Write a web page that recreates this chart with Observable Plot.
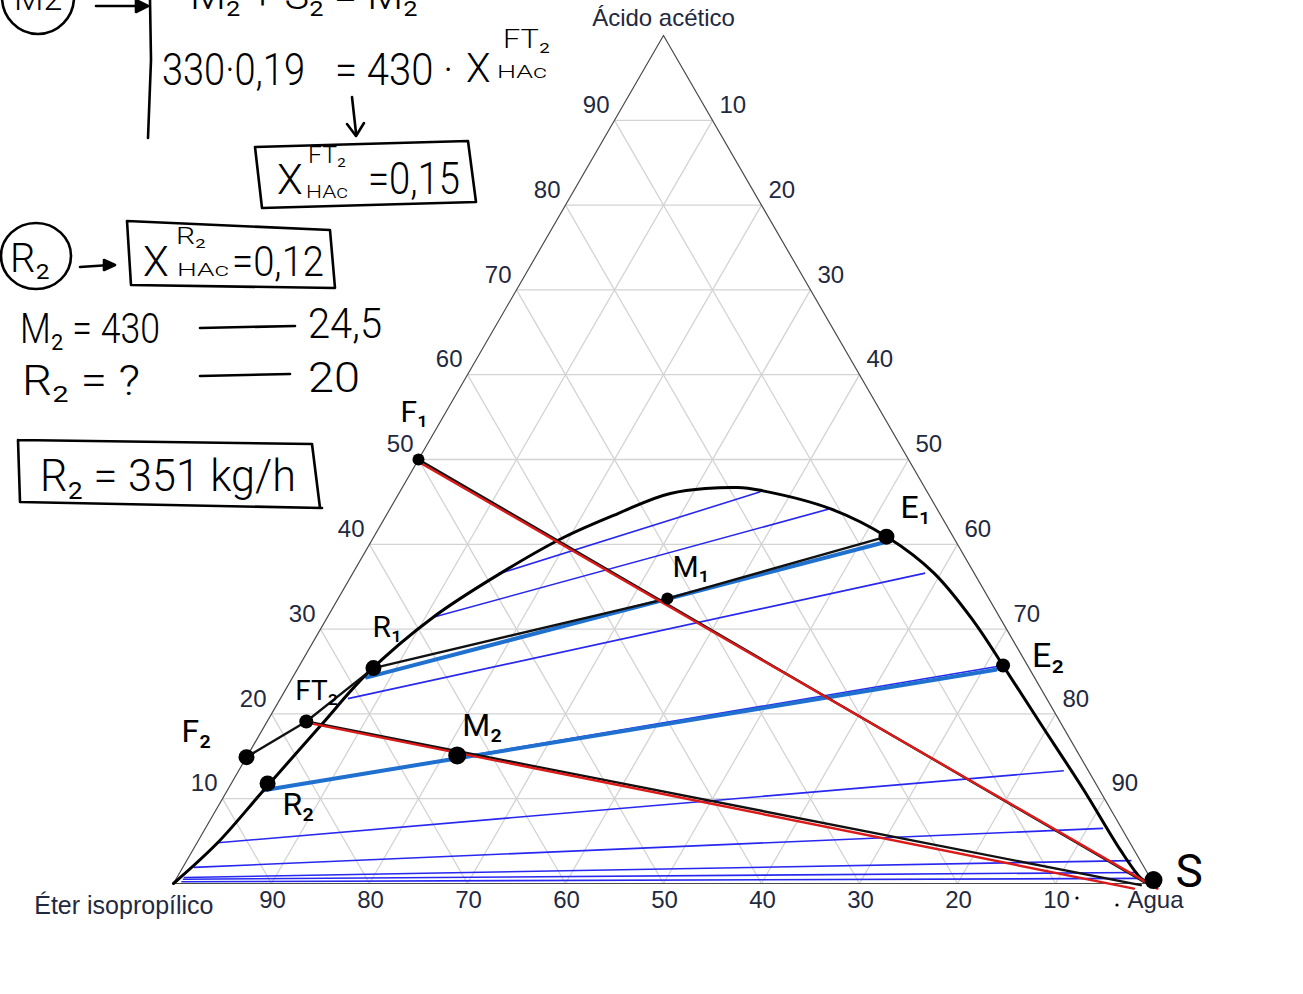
<!DOCTYPE html>
<html><head><meta charset="utf-8">
<script src="https://cdn.jsdelivr.net/npm/d3@7"></script>
<script src="https://cdn.jsdelivr.net/npm/@observablehq/plot@0.6"></script>
<style>
html,body{margin:0;padding:0;background:#fff;}
#chart{position:relative;width:1303px;height:994px;overflow:hidden;}
#chart svg{display:block;}
</style></head><body><div id="chart"></div>
<script>
// ---------- data (percent compositions: acid = Ácido acético, water = Agua) ----------
const ticks = [10,20,30,40,50,60,70,80,90];
const cornerNames = ["Ácido acético","Éter isopropílico","Agua"];
const cornerAcid = [100, 0, 0];
const cornerWater = [0, 0, 100];

const binodalAcid  = [0, 4.8, 11.0, 18.6, 24.8, 31.4, 36.6, 40.8, 43.6, 46.0, 46.7, 46.3, 44.2, 40.8, 36.6, 31.0, 25.7, 18.9, 11.0, 3.9, 0.7, 0];
const binodalWater = [0, 2.1, 3.7, 5.7, 7.4, 10.8, 15.1, 19.4, 23.5, 27.7, 34.2, 37.0, 44.9, 52.5, 59.3, 66.1, 71.8, 79.0, 87.4, 94.7, 98.3, 99.5];

const tieRaffAcid  = [36.6, 31.4, 21.8, 11.0, 4.8, 1.9, 0.7, 0.5, 0.2];
const tieRaffWater = [15.1, 10.8, 6.9, 3.7, 2.1, 1.1, 0.7, 0.7, 0.7];
const tieExtAcid   = [46.2, 44.2, 36.6, 25.7, 13.3, 6.5, 2.7, 1.3, 0.6];
const tieExtWater  = [36.8, 44.9, 58.4, 71.8, 84.2, 91.6, 96.4, 97.7, 98.4];

const pointNames = ["F1","M1","R1","E1","FT2","F2","R2","M2","E2","S"];
const pointAcid  = [50.0, 33.6, 25.4, 40.9, 19.1, 14.9, 11.8, 15.1, 25.7, 0.4];
const pointWater = [0.0, 33.6, 7.7, 52.3, 4.0, 0.0, 3.7, 21.4, 71.8, 99.8];
const pointText  = ["F₁","M₁","R₁","E₁","FT₂","F₂","R₂","M₂","E₂","S"];

// hand-drawn construction lines
const blackChainAcid  = [14.9, 19.1, 25.4, 33.6, 40.9];
const blackChainWater = [0.0, 4.0, 7.7, 33.6, 52.3];
const blackF1SAcid = [50.0, 0.2],  blackF1SWater = [0.0, 98.9];
const blackFT2SAcid = [19.1, -0.2], blackFT2SWater = [4.0, 98.8];
const redF1SAcid = [49.8, -0.6],   redF1SWater = [0.0, 100.7];
const redFT2SAcid = [19.0, -0.6],  redFT2SWater = [4.0, 98.3];
const blueR1E1Acid = [24.3, 40.3], blueR1E1Water = [7.6, 52.6];
const blueR2E2Acid = [11.0, 25.2], blueR2E2Water = [3.7, 71.3];

// ---------- styles / layout ----------
const dotR = {F1:6, M1:6, R1:8, E1:8, FT2:7, F2:8, R2:8, M2:9, E2:7, S:9};
const labelOff = {F1:[-18,-47], M1:[5,-31], E1:[14,-29], R1:[-1,-41], FT2:[-11,-31], F2:[-65,-25], R2:[15,21], M2:[5,-30], E2:[29,-9], S:[22,-8]};
const labelSize = {F1:30, M1:30, E1:32, R1:30, FT2:28, F2:32, R2:32, M2:32, E2:34, S:46};
const HW = "Roboto,'Liberation Sans',sans-serif";
const HWW = 300;
const LAB = "#1f2940";

// ternary -> cartesian (x in %, y = acid %)
const tx = (a, w) => w + a / 2;
const pts = (A, Wt) => A.map((a, i) => [a, Wt[i]]);
const lineOf = (A, Wt, opts) => Plot.line(pts(A, Wt), {x: d => tx(d[0], d[1]), y: d => d[0], ...opts});

const gridRows = [];
for (const k of ticks) {
  gridRows.push([k, 0, k, 100 - k]);        // constant acid
  gridRows.push([0, k, 100 - k, k]);        // constant water
  gridRows.push([0, 100 - k, 100 - k, 0]);  // constant ether
}
const ties = tieRaffAcid.map((a, i) => [a, tieRaffWater[i], tieExtAcid[i], tieExtWater[i]]);
const tri = [0, 1, 2, 0].map(i => [cornerAcid[i], cornerWater[i]]);
const points = pointNames.map((n, i) => ({n, a: pointAcid[i], w: pointWater[i], t: pointText[i]}));

const svg = Plot.plot({
  width: 1303, height: 994, margin: 0,
  x: {domain: [0, 100], range: [173, 1153], axis: null},
  y: {domain: [0, 100], range: [883, 35], axis: null},
  style: {background: "#fff", fontFamily: "'Liberation Sans', Arial, sans-serif"},
  marks: [
    Plot.link(gridRows, {x1: d => tx(d[0], d[1]), y1: d => d[0], x2: d => tx(d[2], d[3]), y2: d => d[2], stroke: "#d3d3d3", strokeWidth: 1.3}),
    Plot.line(tri, {x: d => tx(d[0], d[1]), y: d => d[0], stroke: "#4a4a4a", strokeWidth: 1.2}),
    Plot.link(ties, {x1: d => tx(d[0], d[1]), y1: d => d[0], x2: d => tx(d[2], d[3]), y2: d => d[2], stroke: "#2727f0", strokeWidth: 1.6}),
    lineOf(blueR1E1Acid, blueR1E1Water, {stroke: "#1f70cf", strokeWidth: 4}),
    lineOf(blueR2E2Acid, blueR2E2Water, {stroke: "#1f70cf", strokeWidth: 4}),
    lineOf(binodalAcid, binodalWater, {curve: "catmull-rom", stroke: "#000", strokeWidth: 3}),
    lineOf(blackChainAcid, blackChainWater, {stroke: "#111", strokeWidth: 2.4}),
    lineOf(blackF1SAcid, blackF1SWater, {stroke: "#111", strokeWidth: 2.4}),
    lineOf(blackFT2SAcid, blackFT2SWater, {stroke: "#111", strokeWidth: 2.4}),
    lineOf(redF1SAcid, redF1SWater, {stroke: "#dc1a1a", strokeWidth: 2.4}),
    lineOf(redFT2SAcid, redFT2SWater, {stroke: "#dc1a1a", strokeWidth: 2.4}),
    ...points.map(p => Plot.dot([p], {x: d => tx(d.a, d.w), y: d => d.a, r: dotR[p.n], fill: "#000"})),
    // tick labels
    Plot.text(ticks, {x: k => tx(k, 0), y: k => k, text: k => String(k), textAnchor: "end", dx: -5, dy: -15, fontSize: 24, fill: LAB}),
    Plot.text(ticks, {x: k => tx(100 - k, k), y: k => 100 - k, text: k => String(k), textAnchor: "start", dx: 7, dy: -15, fontSize: 24, fill: LAB}),
    Plot.text(ticks, {x: k => tx(0, 100 - k), y: 0, text: k => String(k), textAnchor: "middle", dx: 1, dy: 17, fontSize: 24, fill: LAB}),
    Plot.text([0], {x: tx(cornerAcid[0], cornerWater[0]), y: cornerAcid[0], text: [cornerNames[0]], dy: -17, fontSize: 24, fill: LAB}),
    Plot.text([0], {x: tx(cornerAcid[1], cornerWater[1]), y: cornerAcid[1], text: [cornerNames[1]], textAnchor: "end", dx: 40, dy: 22, fontSize: 25, fill: LAB}),
    Plot.text([0], {x: tx(cornerAcid[2], cornerWater[2]), y: cornerAcid[2], text: [cornerNames[2]], dx: 2, dy: 17, fontSize: 24, fill: LAB}),
    // handwritten point labels
    ...points.map(p => Plot.text([p], {x: d => tx(d.a, d.w), y: d => d.a, text: d => d.t, textAnchor: "start",
      dx: labelOff[p.n][0], dy: labelOff[p.n][1], fontSize: labelSize[p.n], fontFamily: HW, fontWeight: 400, fill: "#000"}))
  ]
});
document.getElementById("chart").appendChild(svg);

// ---------- handwritten notes (layout only) ----------
const g = d3.select(svg).append("g").attr("text-anchor", "start");
const ink = sel => sel.attr("stroke", "#000").attr("stroke-width", 2.6).attr("stroke-linecap", "round").attr("stroke-linejoin", "round");
const inkPaths = [
  ["M96,6 L140,6", 0], ["M136,0 L148,6 L136,12 Z", 1],   // arrow
  ["M150,0 L151,60 L148,138", 0],                        // brace bar
  ["M352,97 L356,133", 0], ["M347,124 L356,136 L364,123", 0], // down arrow
  ["M255,147 L468,141 L476,202 L262,208 Z", 0],          // box FT2
  ["M80,267 L110,265", 0], ["M104,260 L115,265 L104,270 Z", 1], // arrow
  ["M127,221 L330,230 L335,288 L131,285 Z", 0],          // box R2
  ["M200,328 L295,326", 0], ["M200,376 L290,374", 0],    // dashes
  ["M18,440 L312,444 L320,508 M322,508 L20,502 L18,440", 0] // result box
];
for (const [d, filled] of inkPaths) ink(g.append("path").attr("d", d).attr("fill", filled ? "#000" : "none"));
ink(g.append("ellipse").attr("cx", 38).attr("cy", -3).attr("rx", 36).attr("ry", 37).attr("fill", "none"));
ink(g.append("ellipse").attr("cx", 36).attr("cy", 256).attr("rx", 35).attr("ry", 33).attr("fill", "none"));
const notes = [
  ["M2", 14, 10, 34, 0],
  ["M₂ + S₂ = M₂", 190, 9, 40, 228],
  ["330·0,19", 162, 85, 44, 143],
  ["= 430 ·", 335, 85, 44, 118],
  ["X", 466, 82, 40, 0],
  ["HAc", 497, 78, 19, 50],
  ["FT₂", 503, 48, 26, 47],
  ["X", 277, 194, 42, 0],
  ["FT₂", 308, 163, 24, 38],
  ["HAc", 306, 198, 19, 42],
  ["=0,15", 368, 194, 44, 92],
  ["R₂", 10, 272, 40, 0],
  ["X", 143, 276, 42, 0],
  ["R₂", 176, 244, 24, 30],
  ["HAc", 177, 276, 19, 52],
  ["=0,12", 232, 276, 42, 92],
  ["M₂ = 430", 20, 343, 42, 140],
  ["24,5", 308, 338, 42, 74],
  ["R₂ = ?", 22, 395, 42, 118],
  ["20", 308, 392, 42, 52],
  ["R₂ = 351 kg/h", 40, 491, 44, 256]
];
for (const [t, x, y, s, w] of notes) {
  const el = g.append("text").attr("x", x).attr("y", y).attr("font-size", s).attr("font-family", HW)
    .attr("font-weight", HWW).attr("fill", "#000").attr("text-anchor", "start").text(t);
  if (w) el.attr("textLength", w).attr("lengthAdjust", "spacingAndGlyphs");
}
g.append("circle").attr("cx", 1077).attr("cy", 898).attr("r", 1.6).attr("fill", "#000");
g.append("circle").attr("cx", 1117).attr("cy", 905).attr("r", 1.6).attr("fill", "#000");
</script>
</body></html>
